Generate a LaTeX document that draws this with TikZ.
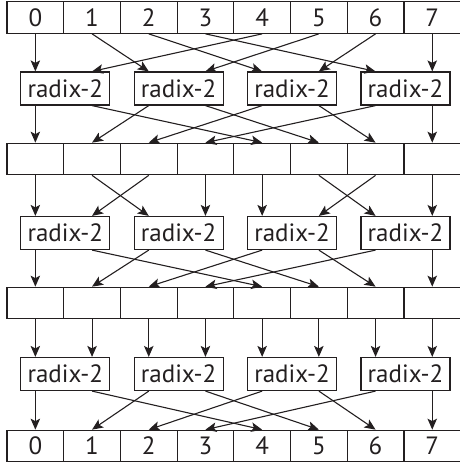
\documentclass[tikz,border=0pt]{standalone}
\usepackage{fontspec}
\setmainfont{PT Sans}
\usetikzlibrary{arrows.meta}
\definecolor{ink}{HTML}{231F20}

\begin{document}
\begin{tikzpicture}[
  x=1pt, y=1pt,
  cell/.style={draw=ink, line width=1.2pt, minimum width=56.7pt,
    minimum height=31.5pt, inner sep=0pt, text=ink,
    font=\fontsize{25}{25}\selectfont},
  radix/.style={draw=ink, line width=1.2pt, minimum width=89pt,
    minimum height=33pt, inner sep=0pt, text=ink,
    font=\fontsize{25}{25}\selectfont},
  arr/.style={-{Stealth[length=11pt, width=9.5pt, inset=2.5pt]},
    line width=1.1pt, draw=ink}
]
  \useasboundingbox (0,0) rectangle (459,-463);

  % data rows (input on top, output at the bottom)
  \foreach \i in {0,...,7} {
    \node[cell] (c0\i) at ({7+56.7*(\i+0.5)}, -17.5) {\i};
    \node[cell] (c1\i) at ({7+56.7*(\i+0.5)}, -159) {};
    \node[cell] (c2\i) at ({7+56.7*(\i+0.5)}, -303) {};
    \node[cell] (c3\i) at ({7+56.7*(\i+0.5)}, -446) {\i};
  }

  % radix-2 butterflies, one row per stage
  \foreach \s/\y in {1/88.5, 2/233, 3/374}
    \foreach \b in {0,...,3}
      \node[radix] (b\s\b) at ({7+56.7*(2*\b+1)+1.5}, -\y) {radix-2};

  % ports on top and bottom of each butterfly row
  \foreach \s in {1,2,3}
    \foreach \p in {0,...,7} {
      \coordinate (in\s\p) at (b\s0.north -| c0\p);
      \coordinate (out\s\p) at (b\s0.south -| c0\p);
    }

  % stage 1: pairs (k, k+4)
  \foreach \i/\p in {0/0,1/2,2/4,3/6,4/1,5/3,6/5,7/7}
    \draw[arr] (c0\i.south) -- (in1\p);
  \foreach \p/\o in {0/0,1/4,2/1,3/5,4/2,5/6,6/3,7/7}
    \draw[arr] (out1\p) -- (c1\o.north);

  % stage 2: pairs (k, k+2)
  \foreach \i/\p in {0/0,1/2,2/1,3/3,4/4,5/6,6/5,7/7}
    \draw[arr] (c1\i.south) -- (in2\p);
  \foreach \p/\o in {0/0,1/4,2/1,3/5,4/2,5/6,6/3,7/7}
    \draw[arr] (out2\p) -- (c2\o.north);

  % stage 3: neighbours
  \foreach \i in {0,...,7}
    \draw[arr] (c2\i.south) -- (in3\i);
  \foreach \p/\o in {0/0,1/4,2/1,3/5,4/2,5/6,6/3,7/7}
    \draw[arr] (out3\p) -- (c3\o.north);
\end{tikzpicture}
\end{document}
